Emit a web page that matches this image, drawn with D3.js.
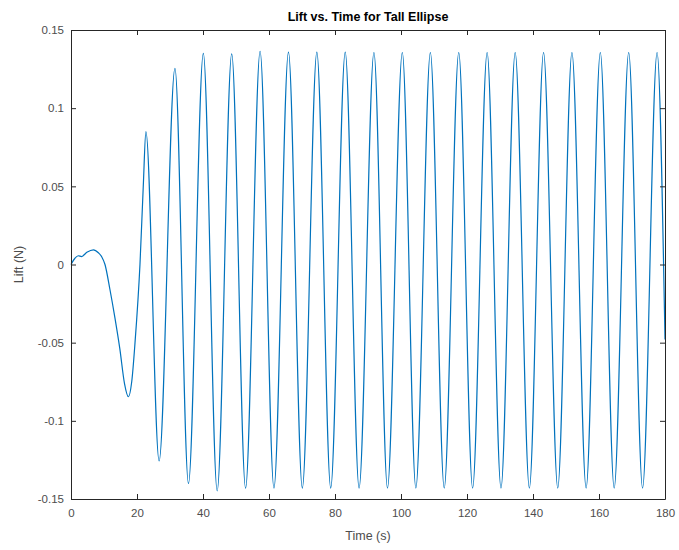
<!DOCTYPE html>
<html>
<head>
<meta charset="utf-8">
<script src="https://cdn.jsdelivr.net/npm/d3@7"></script>
<style>
  html, body { margin: 0; padding: 0; background: #fff; }
  svg { display: block; font-family: "Liberation Sans", Arial, Helvetica, sans-serif; }
</style>
</head>
<body>
<script>
// ---- data ----
const timeValues = [
  0, 1.2, 2.2, 3.2, 4.8, 6.8, 8.3, 9.3, 10.3, 11.8, 13.3, 14.8, 16.2, 17.4,
  18.4, 19.4, 20.9, 21.9, 22.7,
  26.7, 31.5, 35.6, 40.1, 44.3, 48.7, 52.9, 57.3, 61.5, 65.9, 70.1, 74.5,
  78.7, 83.1, 87.3, 91.8, 95.9, 100.4, 104.5, 108.9, 113.1, 117.5, 121.7,
  126.1, 130.3, 134.6, 138.9, 143.2, 147.5, 151.8, 156.1, 160.4, 164.6,
  169.0, 173.2, 177.6, 180
];
const liftValues = [
  0, 0.004, 0.0056, 0.0051, 0.0078, 0.0094, 0.0075, 0.005, 0, -0.016, -0.034, -0.054, -0.076, -0.0846,
  -0.075, -0.05, 0, 0.05, 0.085,
  -0.1257, 0.1254, -0.1401, 0.135, -0.1448, 0.1347, -0.1431, 0.1364, -0.143, 0.1358, -0.143, 0.1358,
  -0.143, 0.1358, -0.143, 0.1356, -0.143, 0.1356, -0.143, 0.1356, -0.143, 0.1356, -0.143,
  0.1356, -0.143, 0.1356, -0.143, 0.1356, -0.143, 0.1356, -0.143, 0.1356, -0.143,
  0.1356, -0.143, 0.1356, -0.048
];
const xTicks = [0, 20, 40, 60, 80, 100, 120, 140, 160, 180];
const yTicks = [-0.15, -0.1, -0.05, 0, 0.05, 0.1, 0.15];
const yTickLabels = ["-0.15", "-0.1", "-0.05", "0", "0.05", "0.1", "0.15"];
const titleText = "Lift vs. Time for Tall Ellipse";
const xLabelText = "Time (s)";
const yLabelText = "Lift (N)";

// ---- layout ----
const W = 679, H = 550;
const m = { left: 71, right: 14, top: 30, bottom: 51 };
const iw = W - m.left - m.right, ih = H - m.top - m.bottom;
const axisColor = "#262626";

const svg = d3.select("body").append("svg").attr("width", W).attr("height", H);
const g = svg.append("g").attr("transform", `translate(${m.left},${m.top})`);

const x = d3.scaleLinear().domain([0, 180]).range([0, iw]);
const y = d3.scaleLinear().domain([-0.15, 0.15]).range([ih, 0]);

const data = timeValues.map((t, i) => ({ t, v: liftValues[i] }));

// line
const line = d3.line().x(d => x(d.t)).y(d => y(d.v)).curve(d3.curveMonotoneX);
g.append("path").datum(data)
  .attr("d", line)
  .attr("fill", "none")
  .attr("stroke", "#0072BD")
  .attr("stroke-width", 1.2)
  .attr("stroke-linejoin", "round");

// axes (MATLAB style: ticks inward, box on)
const tickLen = 5;
const bottomAxis = d3.axisBottom(x).tickValues(xTicks).tickSizeInner(-tickLen).tickSizeOuter(0).tickPadding(10);
const leftAxis = d3.axisLeft(y).tickValues(yTicks).tickFormat((d, i) => yTickLabels[i]).tickSizeInner(-tickLen).tickSizeOuter(0).tickPadding(7);
const topAxis = d3.axisTop(x).tickValues(xTicks).tickSizeInner(-tickLen).tickSizeOuter(0).tickFormat("");
const rightAxis = d3.axisRight(y).tickValues(yTicks).tickSizeInner(-tickLen).tickSizeOuter(0).tickFormat("");

function styleAxis(sel) {
  sel.select(".domain").attr("stroke", axisColor).attr("stroke-width", 1);
  sel.selectAll(".tick line").attr("stroke", axisColor).attr("stroke-width", 1);
  sel.selectAll(".tick text").attr("fill", "#4d4d4d").style("font-size", "11.5px");
}

g.append("g").attr("transform", `translate(0,${ih})`).call(bottomAxis).call(styleAxis);
g.append("g").call(leftAxis).call(styleAxis);
g.append("g").call(topAxis).call(styleAxis);
g.append("g").attr("transform", `translate(${iw},0)`).call(rightAxis).call(styleAxis);

// title & labels
svg.append("text")
  .attr("x", m.left + iw / 2).attr("y", 21)
  .attr("text-anchor", "middle")
  .attr("font-weight", "bold")
  .attr("font-size", "12.5px")
  .attr("fill", "#000")
  .text(titleText);

svg.append("text")
  .attr("x", m.left + iw / 2).attr("y", 540)
  .attr("text-anchor", "middle")
  .attr("font-size", "12.5px")
  .attr("fill", "#4d4d4d")
  .text(xLabelText);

svg.append("text")
  .attr("transform", `translate(23,${m.top + ih / 2}) rotate(-90)`)
  .attr("text-anchor", "middle")
  .attr("font-size", "12.5px")
  .attr("fill", "#4d4d4d")
  .text(yLabelText);
</script>
</body>
</html>
